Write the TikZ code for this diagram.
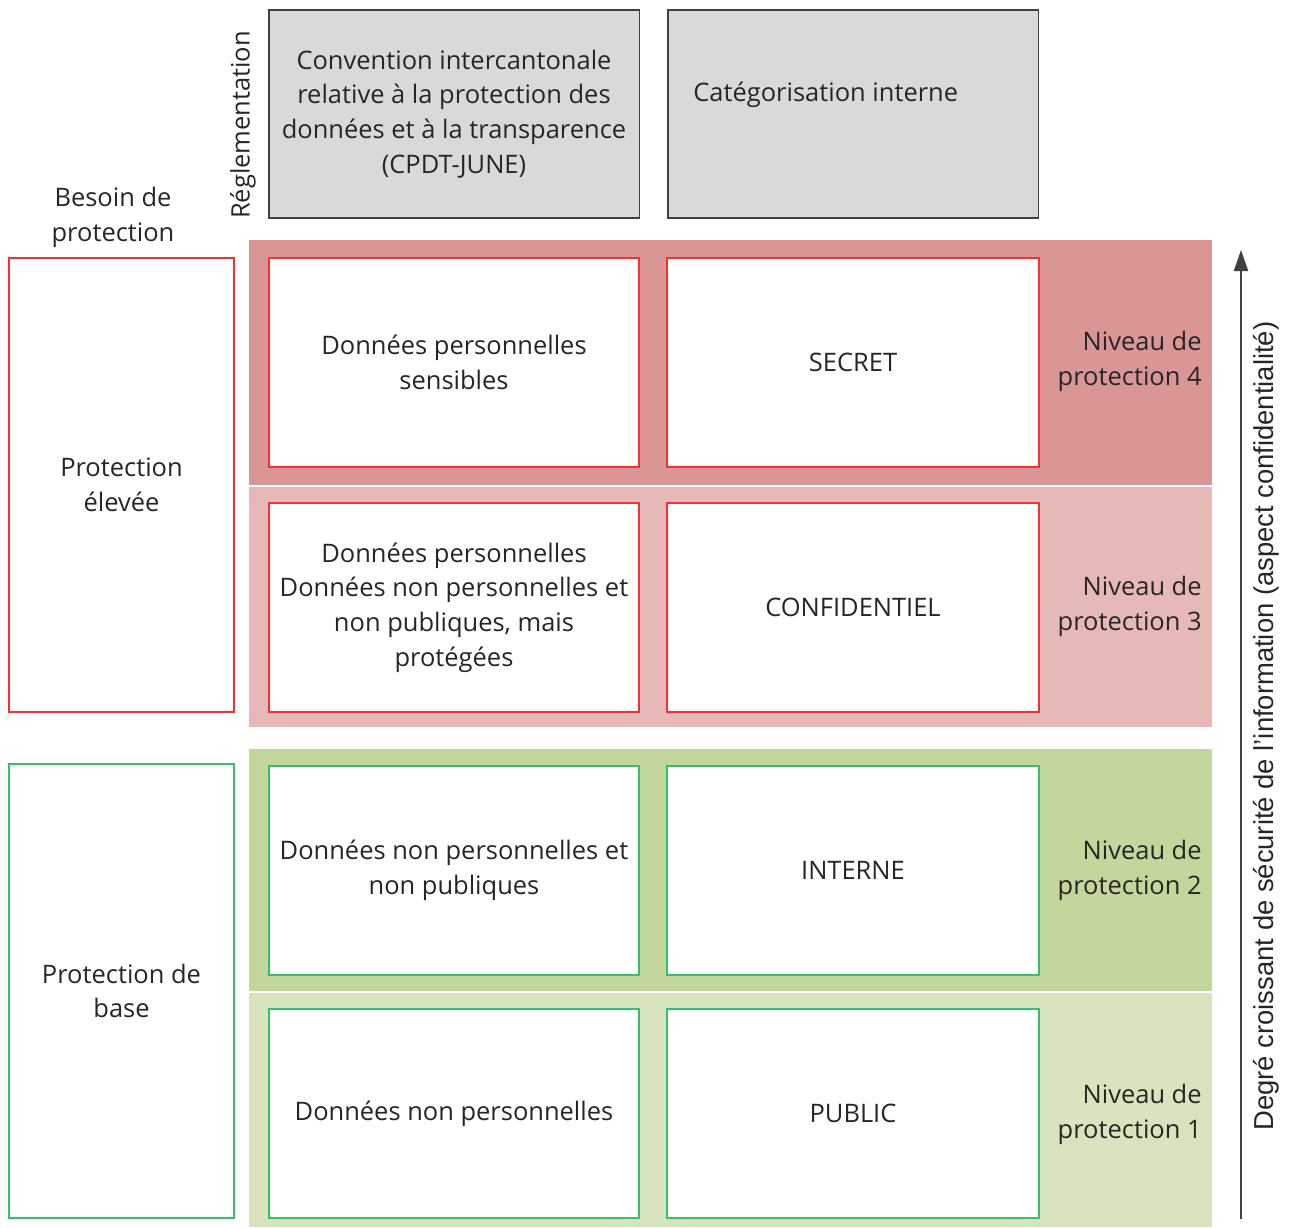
\documentclass[tikz,border=0pt]{standalone}
\usepackage{fontspec}
\setmainfont{Open Sans}
\newfontfamily\arialfont{Liberation Sans}
\usetikzlibrary{arrows.meta}
\definecolor{bandfour}{HTML}{D99694}
\definecolor{bandthree}{HTML}{E6B9B8}
\definecolor{bandtwo}{HTML}{C3D69B}
\definecolor{bandone}{HTML}{D7E4BD}
\definecolor{redline}{RGB}{255,45,45}
\definecolor{greenline}{RGB}{50,195,105}
\definecolor{boxgray}{HTML}{D9D9D9}
\definecolor{darkline}{HTML}{404040}
\definecolor{textgray}{HTML}{262626}
\begin{document}
\begin{tikzpicture}[x=0.02cm,y=-0.02cm,
    every node/.style={font=\fontsize{14.5}{19.8}\selectfont,text=textgray},
    band/.style={fill=#1,draw=none,minimum width=19.26cm,inner sep=0pt},
    topbox/.style={draw=darkline,fill=boxgray,line width=1.1pt,minimum width=7.42cm,minimum height=4.16cm,inner sep=0pt,align=center},
    cell/.style={draw=#1,fill=white,line width=1.1pt,minimum height=4.18cm,inner sep=0pt,align=center},
    side/.style={draw=#1,fill=white,line width=1.1pt,minimum width=4.5cm,minimum height=9.08cm,inner sep=0pt,align=center},
    level/.style={anchor=east,align=right,inner sep=0pt}]
  \useasboundingbox (0,0) rectangle (1294,1227);

  % bandes de couleur
  \node[band=bandfour,minimum height=4.9cm] (b4) at (730.5,362.5) {};
  \node[band=bandthree,minimum height=4.8cm] (b3) at (730.5,607) {};
  \node[band=bandtwo,minimum height=4.84cm] (b2) at (730.5,870) {};
  \node[band=bandone,minimum height=4.68cm] (b1) at (730.5,1110) {};

  % en-tetes
  \node[topbox] (cpdt) at (454,114) {Convention intercantonale\\relative à la protection des\\données et à la transparence\\(CPDT-JUNE)};
  \node[topbox] (cat) at (853,114) {};
  \node[anchor=west,inner sep=0pt] (catlabel) at (693,95) {Catégorisation interne};
  \node[rotate=90,inner sep=0pt] (regl) at (243,125) {Réglementation};
  \node[align=center,inner sep=0pt] (besoin) at (113,217) {Besoin de\\protection};

  % cases
  \node[cell=redline,minimum width=7.4cm] (c4a) at (454,362.5) {Données personnelles\\sensibles};
  \node[cell=redline,minimum width=7.44cm] (c4b) at (853,362.5) {SECRET};
  \node[cell=redline,minimum width=7.4cm] (c3a) at (454,607.5) {Données personnelles\\Données non personnelles et\\non publiques, mais\\protégées};
  \node[cell=redline,minimum width=7.44cm] (c3b) at (853,607.5) {CONFIDENTIEL};
  \node[cell=greenline,minimum width=7.4cm] (c2a) at (454,870.5) {Données non personnelles et\\non publiques};
  \node[cell=greenline,minimum width=7.44cm] (c2b) at (853,870.5) {INTERNE};
  \node[cell=greenline,minimum width=7.4cm] (c1a) at (454,1113.5) {Données non personnelles};
  \node[cell=greenline,minimum width=7.44cm] (c1b) at (853,1113.5) {PUBLIC};

  \node[side=redline] (haute) at (121.5,485) {Protection\\élevée};
  \node[side=greenline] (base) at (121.5,991) {Protection de\\base};

  % niveaux
  \node[level] (n4) at (1202,361) {Niveau de\\protection 4};
  \node[level] (n3) at (1202,606) {Niveau de\\protection 3};
  \node[level] (n2) at (1202,870) {Niveau de\\protection 2};
  \node[level] (n1) at (1202,1114) {Niveau de\\protection 1};

  % fleche
  \coordinate (bas) at (1241,1219);
  \coordinate (haut) at (1241,250);
  \draw[darkline,line width=1.2pt,-{Triangle[length=12pt,width=8pt]}] (bas) -- (haut);
  \node[rotate=90,inner sep=0pt,font=\arialfont\fontsize{15.6}{18}\selectfont] (degre) at (1266,726) {Degré croissant de sécurité de l’information (aspect confidentialité)};
\end{tikzpicture}
\end{document}
